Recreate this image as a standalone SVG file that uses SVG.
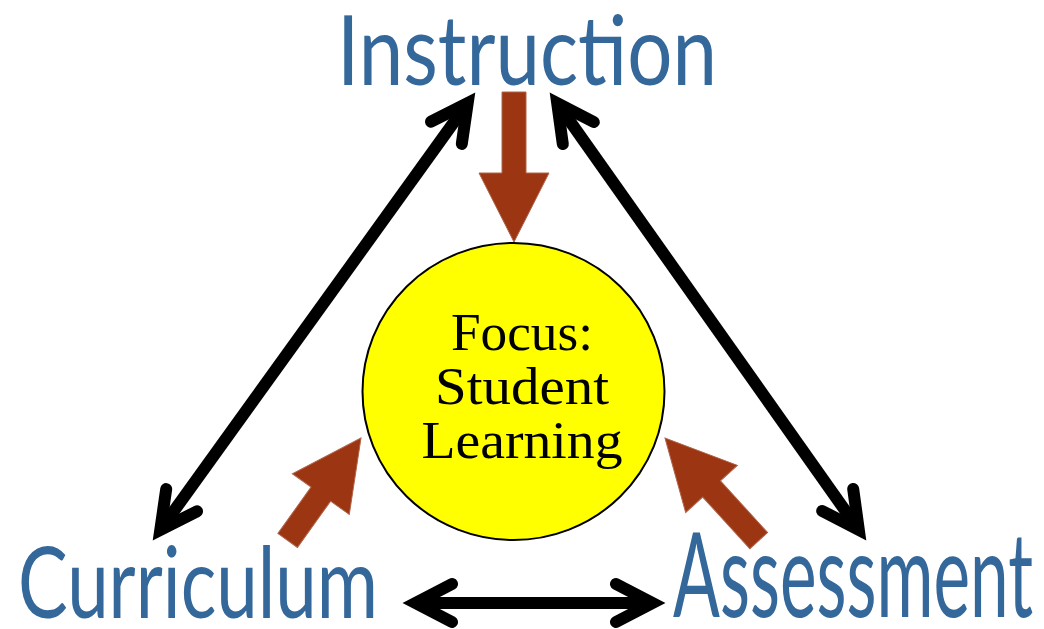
<svg xmlns="http://www.w3.org/2000/svg" width="1044" height="629" viewBox="0 0 1044 629">
<style>
.lbl{font-family:"Lato","Noto Sans",sans-serif;font-weight:400;fill:#34679a;}
.ctr{font-family:"Liberation Serif","Times New Roman",serif;font-size:52px;fill:#000;text-anchor:middle;}
.dbl{fill:none;stroke:#000;stroke-width:12;stroke-linecap:round;stroke-linejoin:miter;}
.shaft{fill:none;stroke:#000;stroke-width:12;}
.brn{fill:#9c3512;stroke:#b0644a;stroke-width:1;}
</style>
<rect width="1044" height="629" fill="#fff"/>
<g id="connectors">
  <g id="instr-curr">
    <path class="shaft" d="M467.7,103.1 L160.3,529.9"/>
    <path class="dbl" d="M431,121.7 L467.7,103.1 L461.8,143.9"/>
    <path class="dbl" d="M197,511.3 L160.3,529.9 L166.2,489.1"/>
  </g>
  <g id="instr-assess">
    <path class="shaft" d="M557.2,103.2 L858.8,529.8"/>
    <path class="dbl" d="M593.8,122 L557.2,103.2 L562.8,144"/>
    <path class="dbl" d="M853.2,489 L858.8,529.8 L822.2,511"/>
  </g>
  <g id="curr-assess">
    <path class="shaft" d="M415.5,603 L652.5,603"/>
    <path class="dbl" d="M452,584 L415.5,603 L452,622"/>
    <path class="dbl" d="M616,584 L652.5,603 L616,622"/>
  </g>
  <g id="to-focus">
    <polygon class="brn" points="502,92 526,92 526,173 549,173 514,242 479,173 502,173"/>
    <polygon class="brn" points="0,0 -69,-35 -69,-12 -126,-12 -126,12 -69,12 -69,35" transform="translate(361,438) rotate(-54.4)"/>
    <polygon class="brn" points="0,0 -69,-35 -69,-12 -139,-12 -139,12 -69,12 -69,35" transform="translate(665,438) rotate(-132.4)"/>
  </g>
</g>
<g id="instruction">
  <text class="lbl" x="337" y="85" font-size="96" textLength="380" lengthAdjust="spacingAndGlyphs">Instruction</text>
</g>
<g id="curriculum">
  <text class="lbl" x="18" y="618" font-size="98" textLength="360" lengthAdjust="spacingAndGlyphs">Curriculum</text>
</g>
<g id="assessment">
  <text class="lbl" x="673" y="617" font-size="118" textLength="360" lengthAdjust="spacingAndGlyphs">Assessment</text>
</g>
<g id="focus">
  <ellipse cx="513.5" cy="391.5" rx="151" ry="148.5" fill="#ffff00" stroke="#000" stroke-width="2"/>
  <text class="ctr" x="522" y="350" textLength="142" lengthAdjust="spacingAndGlyphs">Focus:</text>
  <text class="ctr" x="522" y="404" textLength="174" lengthAdjust="spacingAndGlyphs">Student</text>
  <text class="ctr" x="522" y="458" textLength="201" lengthAdjust="spacingAndGlyphs">Learning</text>
</g>
</svg>
